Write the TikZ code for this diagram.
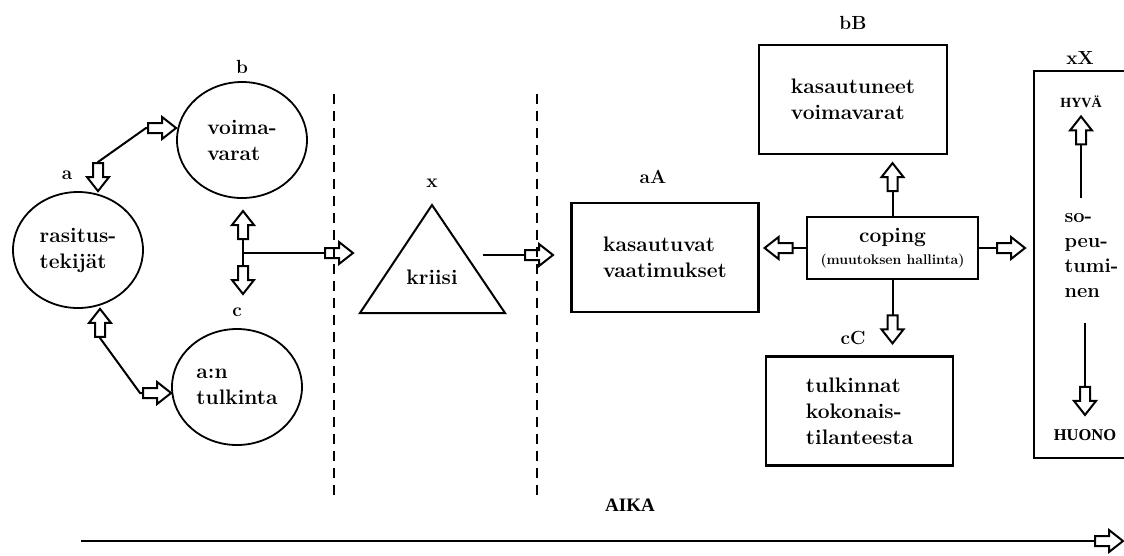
\documentclass[tikz,border=0pt]{standalone}
\usepackage{fontspec}
\newfontfamily\timesfont{Liberation Serif}
\usepackage{tikz}
\usetikzlibrary{positioning,shapes}

% hollow block arrow head
\pgfdeclarearrow{
  name = blockhol,
  setup code = {
    \pgfarrowssettipend{0pt}
    \pgfarrowssetlineend{-28pt}
    \pgfarrowssetbackend{-28pt}
    \pgfarrowshullpoint{0pt}{0pt}
    \pgfarrowshullpoint{-28pt}{11pt}
    \pgfarrowshullpoint{-28pt}{-11pt}
  },
  drawing code = {
    \pgfpathmoveto{\pgfqpoint{0pt}{0pt}}
    \pgfpathlineto{\pgfqpoint{-14pt}{11pt}}
    \pgfpathlineto{\pgfqpoint{-14pt}{5pt}}
    \pgfpathlineto{\pgfqpoint{-28pt}{5pt}}
    \pgfpathlineto{\pgfqpoint{-28pt}{-5pt}}
    \pgfpathlineto{\pgfqpoint{-14pt}{-5pt}}
    \pgfpathlineto{\pgfqpoint{-14pt}{-11pt}}
    \pgfpathclose
    \pgfusepathqstroke
  }
}

\tikzstyle{circ}=[draw, ellipse, line width=1.8pt, minimum width=130pt, minimum height=116pt, inner sep=0pt, align=left]
\tikzstyle{blk}=[draw, rectangle, line width=2.2pt, minimum width=187pt, minimum height=109pt, inner sep=0pt, align=left]
\tikzstyle{lbl}=[font=\bfseries\fontsize{19}{22}\selectfont]
\tikzstyle{tms}=[font=\timesfont\bfseries\fontsize{15}{18}\selectfont]
\tikzstyle{sep}=[line width=2.2pt, dash pattern=on 10pt off 7pt]

\begin{document}
\begin{tikzpicture}[x=1pt,y=-1pt,>=blockhol,font=\bfseries\fontsize{21}{26}\selectfont]
\useasboundingbox (0,0) rectangle (1124,555);
\clip (0,0) rectangle (1124,555);

% left part
\node[circ] at (78,250) (ras) {rasitus-\\tekijät};
\node[circ] at (242,140) (voi) {voima-\\varat};
\node[circ] at (237,387) (tul) {a:n\\tulkinta};
\node[lbl] at (67,175) (la) {a};
\node[lbl, above of = voi, node distance = 73pt] (lb) {b};
\node[lbl, above of = tul, node distance = 75pt] (lc) {c};

\coordinate (k1) at (98,162);
\coordinate (k2) at (146,128);
\draw[<->,line width = 2pt] (ras.north -| k1) -- (k1) -- (k2) -- (k2 -| voi.west);
\coordinate (k3) at (100,338);
\coordinate (k4) at (140,393);
\draw[<->,line width = 2pt] (ras.south -| k3) -- (k3) -- (k4) -- (k4 -| tul.west);

\coordinate (jn) at (243,253);
\coordinate (cu) at (243,211);
\coordinate (cd) at (243,294);
\coordinate (jr) at (353,253);
\draw[<->,line width = 2pt] (cu) -- (cd);
\draw[->,line width = 2pt] (jn) -- (jr);

\draw[sep] (334,94) -- (334,495);
\draw[sep] (537,94) -- (537,495);

% crisis
\draw[line width = 2pt] (432,205) -- (505,313) -- (360,313) -- cycle;
\node at (432,277) (kri) {kriisi};
\node[lbl] at (432,183) (lx) {x};
\coordinate (kx0) at (483,255);
\coordinate (kx1) at (553,255);
\draw[->,line width = 2pt] (kx0) -- (kx1);

% right part
\node[blk] at (665,257.5) (vaat) {kasautuvat\\vaatimukset};
\node[lbl] at (653,177) (laA) {aA};
\node[blk, minimum width=188pt] at (853,99.5) (kvoi) {kasautuneet\\voimavarat};
\node[lbl, above of = kvoi, node distance = 77pt] (lbB) {bB};
\node[blk] at (859.5,411) (ktul) {tulkinnat\\kokonais-\\tilanteesta};
\node[lbl] at (853,338) (lcC) {cC};
\node[draw, line width=2.2pt, minimum width=171pt, minimum height=62pt, inner sep=0pt, align=center] at (892.5,248) (cop) {coping\\[-4pt]{\fontsize{14}{16}\selectfont(muutoksen hallinta)}};

\draw[->,line width = 2pt, shorten >=5pt] (cop.west) -- (cop.west -| vaat.east);
\draw[->,line width = 2pt, shorten >=8pt] (cop.north) -- (cop.north |- kvoi.south);
\draw[->,line width = 2pt, shorten >=12pt] (cop.south) -- (cop.south |- ktul.north);

\node[draw, line width=2.2pt, minimum width=140pt, minimum height=387pt, inner sep=0pt, anchor=north west] at (1033,70) (xbox) {};
\node[lbl] at (1080,58) (lxX) {xX};
\draw[->,line width = 2pt, shorten >=8pt] (cop.east) -- (cop.east -| xbox.west);

\node[anchor=west, align=left, font=\bfseries\fontsize{20}{25}\selectfont] at (1061,256) (sop) {so-\\peu-\\tumi-\\nen};
\node[tms, font=\timesfont\bfseries\fontsize{14}{16}\selectfont] at (1081,102) (hyva) {HYVÄ};
\node[tms, font=\timesfont\bfseries\fontsize{16.5}{19}\selectfont] at (1085,435) (huono) {HUONO};
\coordinate (hy0) at (1081,198);
\coordinate (hu0) at (1085,323);
\draw[->,line width = 2pt, shorten >=5pt] (hy0) -- (hy0 |- hyva.south);
\draw[->,line width = 2pt, shorten >=11pt] (hu0) -- (hu0 |- huono.north);

% time axis
\node[tms, font=\timesfont\bfseries\fontsize{19}{21}\selectfont] at (630,505) (aika) {AIKA};
\coordinate (t0) at (81,541);
\coordinate (t1) at (1123,541);
\draw[->,line width = 2pt] (t0) -- (t1);
\end{tikzpicture}
\end{document}
